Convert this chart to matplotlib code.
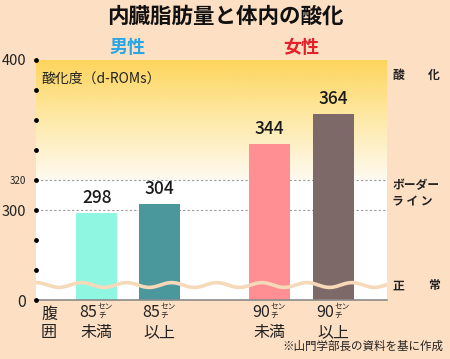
import numpy as np
import matplotlib.pyplot as plt
from matplotlib.colors import LinearSegmentedColormap

plt.rcParams['font.family'] = ['Noto Sans CJK JP', 'DejaVu Sans']

# データ
groups = ["男性", "女性"]
group_colors = ["#2aa6e6", "#e3202b"]
waist = ["85", "85", "90", "90"]
waist_cond = ["未満", "以上", "未満", "以上"]
values = [298, 304, 344, 364]
bar_colors = ["#8ff7e1", "#4a989c", "#ff8f92", "#7e6969"]
ytick_vals = [240, 300, 320, 400]
ytick_labels = ["0", "300", "320", "400"]
ytick_sizes = [11.5, 10.5, 7, 10.5]

bg = "#fddfc3"
fig = plt.figure(figsize=(4.5, 3.59), dpi=100, facecolor=bg)
ax = fig.add_axes([0.08, 0.1643, 0.78, 0.6686])
ax.set_facecolor("white")

x = [0, 0.99, 2.72, 3.73]
xlim = (-0.96, 4.57)
ylim = (240, 400)
ax.set_xlim(*xlim)
ax.set_ylim(*ylim)

# 上部のグラデーション
grad = LinearSegmentedColormap.from_list("g", ["#fffaf0", "#fde9a8", "#fdd55c"])
ax.imshow(np.linspace(0, 1, 100).reshape(-1, 1), extent=[xlim[0], xlim[1], 320, 400],
          origin="lower", aspect="auto", cmap=grad, zorder=0)

for lv in [300, 320]:
    ax.axhline(lv, color="#9a9a9a", lw=0.8, ls=(0, (2, 2)), zorder=1)

ax.bar(x, values, width=0.645, color=bar_colors, zorder=2)
for xi, v in zip(x, values):
    ax.annotate(str(v), (xi, v), xytext=(0, 4), textcoords="offset points",
                ha="center", va="bottom", fontsize=12.5, color="#1a1a1a",
                fontweight="medium")

# 波線（省略記号）
wx = np.linspace(*xlim, 400)
ax.plot(wx, 250 + 1.6 * np.sin(2 * np.pi * (wx - xlim[0]) / 0.71 + 1.5),
        color="#f6d9b8", lw=2.6, zorder=3, solid_capstyle="butt")

for s in ["top", "right", "left"]:
    ax.spines[s].set_visible(False)
ax.spines["bottom"].set_color("#8a8a8a")
ax.spines["bottom"].set_linewidth(1.2)
ax.set_xticks([])
ax.set_yticks(ytick_vals)
ax.set_yticklabels(ytick_labels)
ax.tick_params(axis="y", length=0, pad=7, colors="#222")
for lab, fs in zip(ax.get_yticklabels(), ytick_sizes):
    lab.set_fontsize(fs)
ax.scatter([xlim[0]] * 9, np.arange(240, 401, 20), s=6, color="black",
           clip_on=False, zorder=5)

ax.text(0.015, 0.95, "酸化度（d-ROMs）", transform=ax.transAxes,
        fontsize=10, va="top", ha="left", color="#222")

# x軸ラベル
tr = ax.get_xaxis_transform()
ax.text(0.037, -0.025, "腹\n囲", transform=ax.transAxes, ha="center", va="top",
        fontsize=11.5, linespacing=1.05, color="#222")
for xi, w, c in zip(x, waist, waist_cond):
    ax.text(xi + 0.005, -0.05, w, transform=tr, ha="right", va="center",
            fontsize=11.5, color="#222")
    ax.text(xi + 0.135, -0.028, "セン", transform=tr, ha="center", va="center",
            fontsize=5.5, color="#222")
    ax.text(xi + 0.075, -0.064, "チ", transform=tr, ha="center", va="center",
            fontsize=5.5, color="#222")
    ax.text(xi, -0.135, c, transform=tr, ha="center", va="center",
            fontsize=11.5, color="#222")

# 性別ラベル
for xi, g, gc in zip([np.mean(x[:2]), np.mean(x[2:])], groups, group_colors):
    ax.text(xi - 0.01, 1.05, g, transform=tr, ha="center", va="center",
            fontsize=13, fontweight="bold", color=gc)

fig.text(0.5, 0.955, "内臓脂肪量と体内の酸化", ha="center", va="center",
         fontsize=15.5, fontweight="bold", color="#111")

# 右側の区分ラベル
rkw = dict(fontsize=8.5, fontweight="bold", color="#222", va="center")
fig.text(0.872, 1 - 75 / 359, "酸", ha="left", **rkw)
fig.text(0.978, 1 - 75 / 359, "化", ha="right", **rkw)
fig.text(0.872, 1 - 186 / 359, "ボーダー", ha="left", **rkw)
fig.text(0.872, 1 - 202 / 359, "ラ イ ン", ha="left", **rkw)
fig.text(0.872, 1 - 286 / 359, "正", ha="left", **rkw)
fig.text(0.978, 1 - 286 / 359, "常", ha="right", **rkw)

fig.text(0.985, 0.018, "※山門学部長の資料を基に作成", ha="right", va="bottom",
         fontsize=8.3, color="#222")

fig.savefig("out.png", dpi=100, facecolor=bg)
